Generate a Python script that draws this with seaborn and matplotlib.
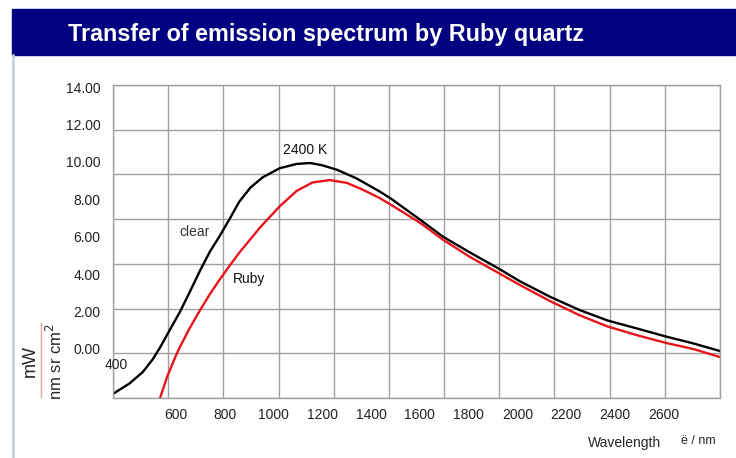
import numpy as np
import matplotlib
matplotlib.use("Agg")
import matplotlib.pyplot as plt
import seaborn as sns
import pandas as pd
from matplotlib.patches import Rectangle
from matplotlib.lines import Line2D

# values (nm, mW / nm sr cm2)
clear_nm = [342, 410, 465, 505, 535, 575, 615, 655, 700, 740, 780, 820, 860, 905,
            955, 1025, 1095, 1150, 1200, 1260, 1340, 1435, 1480, 1600, 1695, 1805,
            1920, 2010, 2135, 2255, 2370, 2500, 2610, 2720, 2830]
clear_val = [-2.40, -1.84, -1.22, -0.55, 0.08, 1.02, 1.95, 3.00, 4.22, 5.22, 6.05,
             6.95, 7.88, 8.62, 9.17, 9.66, 9.89, 9.94, 9.82, 9.58, 9.12, 8.42, 8.05,
             6.92, 6.00, 5.16, 4.32, 3.62, 2.78, 2.08, 1.52, 1.06, 0.66, 0.30, -0.11]

ruby_nm = [535, 565, 600, 620, 655, 700, 740, 780, 820, 860, 945, 1025, 1095, 1160,
           1230, 1300, 1365, 1435, 1480, 1600, 1695, 1805, 1920, 2010, 2135, 2255,
           2370, 2500, 2610, 2720, 2830]
ruby_val = [-2.62, -1.45, -0.35, 0.20, 1.08, 2.10, 2.95, 3.72, 4.45, 5.15, 6.50,
            7.62, 8.45, 8.90, 9.03, 8.88, 8.52, 8.07, 7.72, 6.75, 5.84, 4.92, 4.08,
            3.42, 2.55, 1.80, 1.20, 0.70, 0.32, 0.00, -0.43]

x_ticks = [600, 800, 1000, 1200, 1400, 1600, 1800, 2000, 2200, 2400, 2600]
y_ticks = [0, 2, 4, 6, 8, 10, 12, 14]

title = "Transfer of emission spectrum by Ruby quartz"

sns.set_style("white")
plt.rcParams["font.family"] = ["Liberation Sans", "DejaVu Sans"]

df = pd.concat([
    pd.DataFrame({"nm": clear_nm, "val": clear_val, "filter": "clear"}),
    pd.DataFrame({"nm": ruby_nm, "val": ruby_val, "filter": "Ruby"}),
])

fig = plt.figure(figsize=(7.36, 4.58), dpi=100)
ax = fig.add_axes([0.1535, 0.131, 0.8247, 0.6834])

sns.lineplot(data=df, x="nm", y="val", hue="filter", palette={"clear": "black", "Ruby": "#e8141c"},
             sort=False, linewidth=1.7, legend=False, ax=ax,
             solid_joinstyle="round", solid_capstyle="round")

xmin, xmax = 342, 2830
ymin, ymax = -2.62, 14.11
ax.set_xlim(xmin, xmax)
ax.set_ylim(ymin, ymax)

ax.set_xticks(x_ticks)
ax.set_xticklabels([str(v) for v in x_ticks])
ax.set_yticks(y_ticks)
ax.set_yticklabels([f"{v:.2f}" for v in y_ticks])
# grid divides the frame into even cells, independent of the labels
ax.set_xticks(np.linspace(xmin, xmax, 12), minor=True)
ax.set_yticks(np.linspace(ymin, ymax, 8), minor=True)
ax.grid(False, which="major")
ax.grid(True, which="minor", color="#a0a0a0", linewidth=1)
ax.tick_params(which="both", length=0)
ax.tick_params(axis="x", pad=7, labelsize=10, colors="#222222")
ax.tick_params(axis="y", pad=9, labelsize=10, colors="#222222")
for s in ax.spines.values():
    s.set_color("#a0a0a0")
    s.set_linewidth(1)
ax.set_xlabel("")
ax.set_ylabel("")

ax.text(678, 6.25, "clear", fontsize=10, color="#333333", ha="center", va="center")
ax.text(899, 3.74, "Ruby", fontsize=10, color="#111111", ha="center", va="center")
ax.text(1129, 10.63, "2400 K", fontsize=10, color="#111111", ha="center", va="center")
ax.text(354, -0.85, "400", fontsize=10, color="#222222", ha="center", va="center")

# header bar
fig.patches.append(Rectangle((12 / 736, 1 - 55 / 458), 1 - 12 / 736, 46 / 458,
                             transform=fig.transFigure, color="#000080", zorder=0))
fig.lines.append(Line2D([13 / 736, 13 / 736], [0, 1 - 55 / 458], transform=fig.transFigure,
                        color="#c8d0e0", linewidth=2))
fig.text(68 / 736, 1 - 35 / 458, title, color="white", fontsize=16.8, fontweight="bold",
         ha="left", va="center")

# axis titles
fig.text(30 / 736, 1 - 361 / 458, "mW", rotation=90, fontsize=13, ha="center", va="center")
fig.lines.append(Line2D([41 / 736, 41 / 736], [1 - 397 / 458, 1 - 323 / 458],
                        transform=fig.transFigure, color="#f4a0a0", linewidth=1))
fig.text(55 / 736, 1 - 362 / 458, "nm sr cm$^2$", rotation=90, fontsize=12, ha="center", va="center")
fig.text(625 / 736, 1 - 443 / 458, "Wavelength", fontsize=10, ha="center", va="center")
fig.text(698 / 736, 1 - 441 / 458, "ë / nm", fontsize=9, ha="center", va="center")

fig.savefig("out.png", dpi=100)
